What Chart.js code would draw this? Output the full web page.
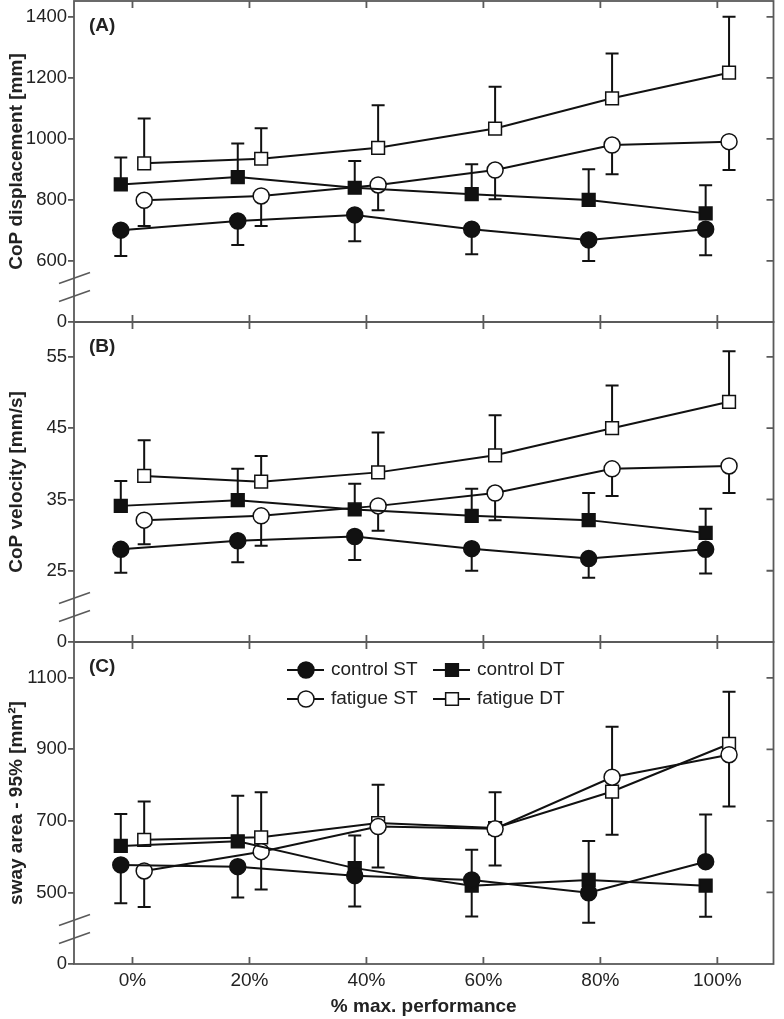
<!DOCTYPE html>
<html>
<head>
<meta charset="utf-8">
<script src="https://cdn.jsdelivr.net/npm/chart.js"></script>
<style>
  html, body { margin: 0; padding: 0; background: #fff; }
  #wrap { position: relative; width: 784px; height: 1019px; overflow: hidden; }
  canvas { position: absolute; left: 0; }
</style>
</head>
<body>
<div id="wrap">
  <canvas id="panelA" width="784" height="357" style="top:-17px"></canvas>
  <canvas id="panelB" width="784" height="356" style="top:304px"></canvas>
  <canvas id="panelC" width="784" height="395" style="top:624px"></canvas>
</div>
<script>
// x categories (% of max. performance); control drawn slightly left, fatigue slightly right
const pct = [0, 20, 40, 60, 80, 100];
const xShift = 2;
const seriesNames = ['control ST', 'control DT', 'fatigue ST', 'fatigue DT'];

// (A) CoP displacement [mm] -- means and one-sided SD (negative = bar drawn down)
const dispControlST = [701, 731, 751, 704, 669, 704];
const dispControlDT = [851, 875, 840, 819, 800, 756];
const dispFatigueST = [799, 813, 849, 898, 980, 991];
const dispFatigueDT = [920, 935, 971, 1034, 1133, 1217];
const dispErrControlST = [-85, -79, -86, -82, -69, -85];
const dispErrControlDT = [88, 110, 88, 98, 101, 92];
const dispErrFatigueST = [-84, -98, -83, -96, -96, -93];
const dispErrFatigueDT = [147, 100, 139, 137, 147, 183];
const dispTicks = [400, 600, 800, 1000, 1200, 1400];
const dispTickLabels = ['0', '600', '800', '1000', '1200', '1400'];

// (B) CoP velocity [mm/s]
const velControlST = [28.0, 29.2, 29.8, 28.1, 26.7, 28.0];
const velControlDT = [34.1, 34.9, 33.6, 32.7, 32.1, 30.3];
const velFatigueST = [32.1, 32.7, 34.1, 35.9, 39.3, 39.7];
const velFatigueDT = [38.3, 37.5, 38.8, 41.2, 45.0, 48.7];
const velErrControlST = [-3.3, -3.0, -3.3, -3.1, -2.7, -3.4];
const velErrControlDT = [3.5, 4.4, 3.6, 3.8, 3.8, 3.4];
const velErrFatigueST = [-3.4, -4.2, -3.5, -3.8, -3.8, -3.8];
const velErrFatigueDT = [5.0, 3.6, 5.6, 5.6, 6.0, 7.1];
const velTicks = [15, 25, 35, 45, 55];
const velTickLabels = ['0', '25', '35', '45', '55'];

// (C) sway area - 95% [mm2]
const areaControlST = [577, 572, 547, 535, 499, 586];
const areaControlDT = [630, 643, 568, 519, 535, 519];
const areaFatigueST = [560, 614, 684, 678, 822, 885];
const areaFatigueDT = [647, 654, 694, 680, 782, 915];
const areaErrControlST = [-107, -86, -86, 84, -84, 132];
const areaErrControlDT = [89, 127, 91, -86, 109, -87];
const areaErrFatigueST = [-101, -106, -114, -103, 141, -145];
const areaErrFatigueDT = [107, 126, 107, 100, -121, 146];
const areaTicks = [300, 500, 700, 900, 1100];
const areaTickLabels = ['0', '500', '700', '900', '1100'];

const ink = '#111';
const frameCol = '#5a5a5a';
const textCol = '#222';
const family = '"Liberation Sans", Arial, Helvetica, sans-serif';

const pointStyles = ['circle', 'rect', 'circle', 'rect'];
const pointFills = [ink, ink, '#fff', '#fff'];
const pointSizes = [8, 9, 8, 9];

function makeSets(vals, errs) {
  return seriesNames.map((name, i) => ({
    label: name,
    data: pct.map((p, j) => ({ x: p + (i < 2 ? -xShift : xShift), y: vals[i][j] })),
    err: errs[i],
    borderColor: ink,
    borderWidth: 2,
    pointStyle: pointStyles[i],
    pointRadius: pointSizes[i],
    pointHoverRadius: pointSizes[i],
    pointBackgroundColor: pointFills[i],
    pointBorderColor: ink,
    pointBorderWidth: 1.5,
    tension: 0,
    clip: false
  }));
}

function drawMarker(ctx, style, fill, r, x, y) {
  ctx.beginPath();
  if (style === 'circle') {
    ctx.arc(x, y, r, 0, Math.PI * 2);
  } else {
    const s = r * Math.SQRT1_2;
    ctx.rect(x - s, y - s, 2 * s, 2 * s);
  }
  ctx.fillStyle = fill;
  ctx.fill();
  ctx.lineWidth = 1.5;
  ctx.strokeStyle = ink;
  ctx.stroke();
}

const panelDecor = {
  id: 'panelDecor',
  beforeDatasetsDraw(chart) {
    // one-sided error bars with caps
    const ctx = chart.ctx, xs = chart.scales.x, ys = chart.scales.y;
    ctx.save();
    ctx.strokeStyle = ink;
    ctx.lineWidth = 2;
    chart.data.datasets.forEach(ds => {
      ds.data.forEach((pt, j) => {
        const px = xs.getPixelForValue(pt.x);
        const y0 = ys.getPixelForValue(pt.y);
        const y1 = ys.getPixelForValue(pt.y + ds.err[j]);
        ctx.beginPath();
        ctx.moveTo(px, y0);
        ctx.lineTo(px, y1);
        ctx.moveTo(px - 6.5, y1);
        ctx.lineTo(px + 6.5, y1);
        ctx.stroke();
      });
    });
    ctx.restore();
  },
  afterDraw(chart, args, opts) {
    const ctx = chart.ctx, a = chart.chartArea, xs = chart.scales.x, ys = chart.scales.y;
    ctx.save();
    // frame
    ctx.strokeStyle = frameCol;
    ctx.lineWidth = 1.8;
    ctx.strokeRect(a.left, a.top, a.right - a.left, a.bottom - a.top);
    // inward x ticks (top and bottom)
    ctx.beginPath();
    pct.forEach(p => {
      const px = xs.getPixelForValue(p);
      ctx.moveTo(px, a.top); ctx.lineTo(px, a.top + 7);
      ctx.moveTo(px, a.bottom); ctx.lineTo(px, a.bottom - 7);
    });
    // inward ticks on right side
    ys.ticks.forEach((t, i) => {
      if (i === 0) return;
      const py = ys.getPixelForValue(t.value);
      ctx.moveTo(a.right, py); ctx.lineTo(a.right - 7, py);
    });
    ctx.stroke();
    // axis break marks
    ctx.lineWidth = 1.5;
    [a.bottom - 44, a.bottom - 26].forEach(by => {
      ctx.beginPath();
      ctx.moveTo(a.left - 15, by + 5.5);
      ctx.lineTo(a.left + 16, by - 5.5);
      ctx.stroke();
    });
    // panel letter
    ctx.fillStyle = textCol;
    ctx.font = 'bold 19px ' + family;
    ctx.textBaseline = 'middle';
    ctx.textAlign = 'left';
    ctx.fillText(opts.letter, a.left + 15, a.top + 25);
    // legend (only in panel C)
    if (opts.legend) {
      const cols = [287, 433], rows = [28, 57];
      chart.data.datasets.forEach((ds, i) => {
        const lx = cols[i % 2], ly = a.top + rows[Math.floor(i / 2)];
        ctx.strokeStyle = ink;
        ctx.lineWidth = 2;
        ctx.beginPath();
        ctx.moveTo(lx, ly); ctx.lineTo(lx + 37, ly);
        ctx.stroke();
        drawMarker(ctx, pointStyles[i], pointFills[i], pointSizes[i], lx + 19, ly);
        ctx.fillStyle = textCol;
        ctx.font = '19px ' + family;
        ctx.fillText(ds.label, lx + 44, ly);
      });
    }
    ctx.restore();
  }
};

function makePanel(id, opt) {
  const ctx = document.getElementById(id).getContext('2d');
  return new Chart(ctx, {
    type: 'line',
    data: { datasets: makeSets(opt.vals, opt.errs) },
    options: {
      responsive: false,
      animation: false,
      events: [],
      layout: { padding: { top: opt.padTop, right: 3, bottom: opt.padBottom, left: 0 } },
      plugins: {
        legend: { display: false },
        tooltip: { enabled: false },
        panelDecor: { letter: opt.letter, legend: opt.legend }
      },
      scales: {
        x: {
          type: 'linear',
          min: -10,
          max: 109.6,
          display: opt.showX,
          afterBuildTicks: s => { s.ticks = pct.map(v => ({ value: v })); },
          afterFit: s => { s.height = opt.showX ? 55 : 0; },
          grid: { display: false },
          border: { display: false },
          ticks: {
            callback: v => v + '%',
            color: textCol,
            font: { family: family, size: 19 },
            padding: -3,
            maxRotation: 0,
            autoSkip: false
          },
          title: {
            display: true,
            text: '% max. performance',
            color: textCol,
            font: { family: family, size: 19, weight: 'bold' },
            padding: { top: 0, bottom: 1 }
          }
        },
        y: {
          min: opt.min,
          max: opt.max,
          afterBuildTicks: s => { s.ticks = opt.ticks.map(v => ({ value: v })); },
          afterFit: s => { s.width = 74; },
          grid: { drawOnChartArea: false, drawTicks: true, tickLength: 6, color: frameCol, lineWidth: 1.8 },
          border: { display: false },
          ticks: {
            callback: (v, i) => opt.tickLabels[i],
            color: textCol,
            font: { family: family, size: 18.5 },
            padding: 1,
            autoSkip: false
          },
          title: {
            display: true,
            text: opt.title,
            color: textCol,
            font: { family: family, size: 19, weight: 'bold' },
            padding: { top: 5, bottom: 0 }
          }
        }
      }
    },
    plugins: [panelDecor]
  });
}

makePanel('panelA', {
  letter: '(A)', legend: false, showX: false, padTop: 18, padBottom: 18,
  vals: [dispControlST, dispControlDT, dispFatigueST, dispFatigueDT],
  errs: [dispErrControlST, dispErrControlDT, dispErrFatigueST, dispErrFatigueDT],
  min: 400, max: 1452, ticks: dispTicks, tickLabels: dispTickLabels,
  title: 'CoP displacement [mm]'
});

makePanel('panelB', {
  letter: '(B)', legend: false, showX: false, padTop: 18, padBottom: 18,
  vals: [velControlST, velControlDT, velFatigueST, velFatigueDT],
  errs: [velErrControlST, velErrControlDT, velErrFatigueST, velErrFatigueDT],
  min: 15, max: 59.9, ticks: velTicks, tickLabels: velTickLabels,
  title: 'CoP velocity [mm/s]'
});

makePanel('panelC', {
  letter: '(C)', legend: true, showX: true, padTop: 18, padBottom: 0,
  vals: [areaControlST, areaControlDT, areaFatigueST, areaFatigueDT],
  errs: [areaErrControlST, areaErrControlDT, areaErrFatigueST, areaErrFatigueDT],
  min: 300, max: 1200, ticks: areaTicks, tickLabels: areaTickLabels,
  title: ['sway area - 95% [mm²]']
});
</script>
</body>
</html>
